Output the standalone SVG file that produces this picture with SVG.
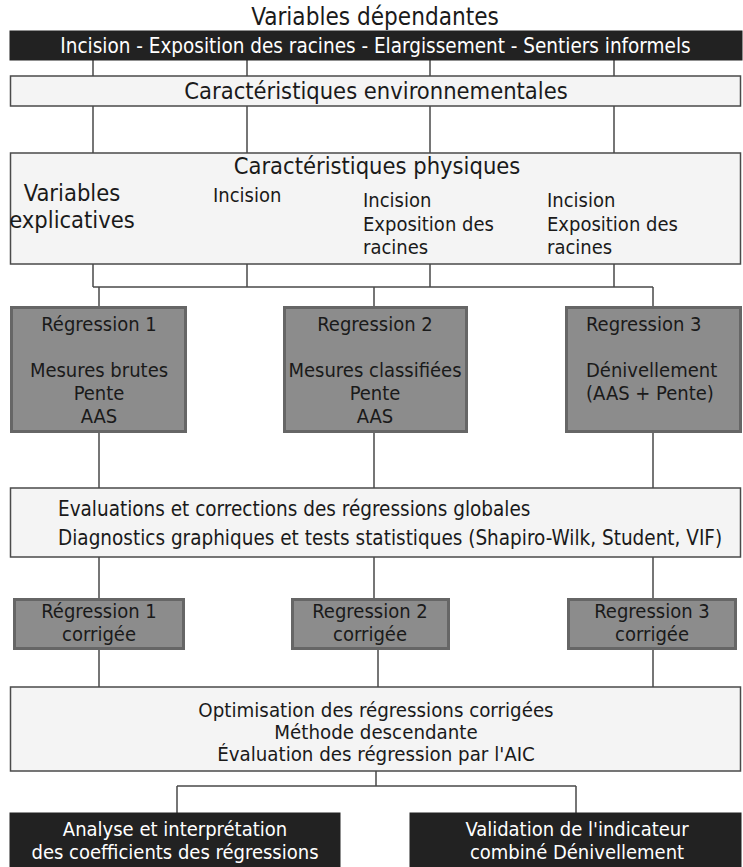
<svg xmlns="http://www.w3.org/2000/svg" width="743" height="867" viewBox="0 0 743 867">
  <style>
    text { font-family: "DejaVu Sans Condensed", "DejaVu Sans", "Liberation Sans", sans-serif; font-stretch: condensed; fill: #1a1a1a; font-size: 20px; }
    .big { font-size: 23.5px; }
    .head { font-size: 24.1px; }
    .bar { font-size: 20.5px; }
    .wide { font-size: 20.5px; }
    .opt { font-size: 20.3px; }
    .mid { text-anchor: middle; }
    .inv { fill: #ffffff; }
    .dark { fill: #222222; stroke: #222222; stroke-width: 1; }
    .light { fill: #f4f4f4; stroke: #4a4a4a; stroke-width: 1.5; }
    .grey { fill: #8c8c8c; stroke: #666666; stroke-width: 3; }
    .wire { fill: none; stroke: #4a4a4a; stroke-width: 1.5; }
  </style>
  <rect width="743" height="867" fill="#ffffff"/>

  <!-- connectors -->
  <g id="connectors" class="wire">
    <path d="M93 60V76M247 60V76M430 60V76M614 60V76"/>
    <path d="M93 106V153M247 106V153M430 106V153M614 106V153"/>
    <path d="M93 264V287M247 264V287M430 264V287M614 264V287M93 287H653"/>
    <path d="M99 287V306M374 287V306M653 287V306"/>
    <path d="M99 432V488M374 432V488M653 432V488"/>
    <path d="M99 557V598M374 557V598M653 557V598"/>
    <path d="M99 650V687M378 650V687M653 650V687"/>
    <path d="M376 771V786M177 786H576M177 786V813M576 786V813"/>
  </g>

  <g id="title">
    <text class="head mid" x="375" y="25">Variables dépendantes</text>
  </g>

  <g id="dependantes">
    <rect class="dark" x="10" y="31" width="732" height="29"/>
    <text class="bar mid inv" x="375.5" y="53">Incision - Exposition des racines - Elargissement - Sentiers informels</text>
  </g>

  <g id="environnement">
    <rect class="light" x="10.5" y="76" width="730" height="30"/>
    <text class="big mid" x="376" y="99">Caractéristiques environnementales</text>
  </g>

  <g id="physiques">
    <rect class="light" x="10.5" y="153" width="730" height="111"/>
    <text class="big mid" x="377" y="174">Caractéristiques physiques</text>
    <text class="big mid" x="72" y="201">Variables</text>
    <text class="big mid" x="72" y="228">explicatives</text>
    <text x="213" y="202">Incision</text>
    <text x="363" y="207">Incision</text>
    <text x="363" y="231">Exposition des</text>
    <text x="363" y="254">racines</text>
    <text x="547" y="207">Incision</text>
    <text x="547" y="231">Exposition des</text>
    <text x="547" y="254">racines</text>
  </g>

  <g id="regression1">
    <rect class="grey" x="11.5" y="307.5" width="174" height="124"/>
    <text class="mid" x="99" y="331">Régression 1</text>
    <text class="mid" x="99" y="377">Mesures brutes</text>
    <text class="mid" x="99" y="400">Pente</text>
    <text class="mid" x="99" y="423">AAS</text>
  </g>

  <g id="regression2">
    <rect class="grey" x="284.5" y="307.5" width="182" height="124"/>
    <text class="mid" x="375" y="331">Regression 2</text>
    <text class="mid" x="375" y="377">Mesures classifiées</text>
    <text class="mid" x="375" y="400">Pente</text>
    <text class="mid" x="375" y="423">AAS</text>
  </g>

  <g id="regression3">
    <rect class="grey" x="566.5" y="307.5" width="174" height="124"/>
    <text x="586" y="331">Regression 3</text>
    <text x="586" y="377">Dénivellement</text>
    <text x="586" y="400">(AAS + Pente)</text>
  </g>

  <g id="evaluations">
    <rect class="light" x="10.5" y="488" width="730" height="69"/>
    <text class="wide" x="58" y="516">Evaluations et corrections des régressions globales</text>
    <text class="wide" x="58" y="545">Diagnostics graphiques et tests statistiques (Shapiro-Wilk, Student, VIF)</text>
  </g>

  <g id="regression1-corrigee">
    <rect class="grey" x="14.5" y="599.5" width="169" height="49"/>
    <text class="mid" x="99" y="618">Régression 1</text>
    <text class="mid" x="99" y="641">corrigée</text>
  </g>

  <g id="regression2-corrigee">
    <rect class="grey" x="292.5" y="599.5" width="156" height="49"/>
    <text class="mid" x="370" y="618">Regression 2</text>
    <text class="mid" x="370" y="641">corrigée</text>
  </g>

  <g id="regression3-corrigee">
    <rect class="grey" x="568.5" y="599.5" width="167" height="49"/>
    <text class="mid" x="652" y="618">Regression 3</text>
    <text class="mid" x="652" y="641">corrigée</text>
  </g>

  <g id="optimisation">
    <rect class="light" x="10.5" y="687" width="730" height="84"/>
    <text class="opt mid" x="376" y="717">Optimisation des régressions corrigées</text>
    <text class="opt mid" x="376" y="739">Méthode descendante</text>
    <text class="opt mid" x="376" y="761">Évaluation des régression par l'AIC</text>
  </g>

  <g id="analyse">
    <rect class="dark" x="10" y="813" width="330" height="60"/>
    <text class="mid inv" x="175" y="836">Analyse et interprétation</text>
    <text class="mid inv" x="175" y="859">des coefficients des régressions</text>
  </g>

  <g id="validation">
    <rect class="dark" x="410" y="813" width="331" height="60"/>
    <text class="mid inv" x="577" y="836">Validation de l'indicateur</text>
    <text class="mid inv" x="577" y="859">combiné Dénivellement</text>
  </g>
</svg>
